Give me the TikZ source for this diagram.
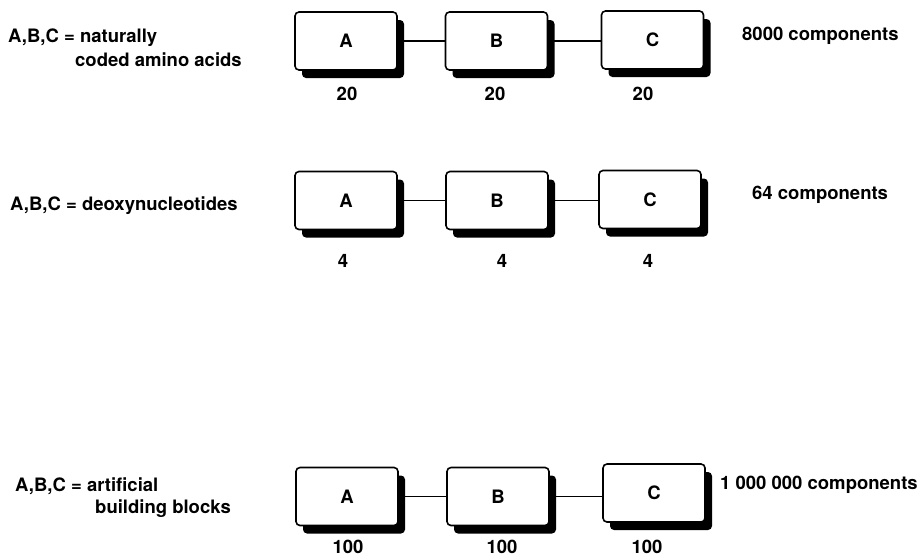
\documentclass[tikz,border=0pt]{standalone}
\usepackage{fontspec}
\setmainfont{TeX Gyre Heros}
\usetikzlibrary{shadows}
\begin{document}
\begin{tikzpicture}[x=1pt,y=-1pt,
  every node/.style={font=\bfseries\fontsize{18.5}{21}\selectfont, inner sep=0pt},
  blk/.style={draw=black, line width=1.6pt, rounded corners=4pt, fill=white,
    minimum width=102pt, minimum height=58pt,
    drop shadow={shadow xshift=7pt, shadow yshift=-8pt, fill=black, opacity=1}},
  txt/.style={anchor=base west},
  num/.style={anchor=base},
  link/.style={draw=black, line width=1.2pt}]
\useasboundingbox (0,0) rectangle (923,558);
% Row 1
\node[blk] (a1) at (346,41) {A};
\node[blk] (b1) at (496.5,41) {B};
\node[blk] (c1) at (652.5,40) {C};
\draw[link] (a1.east) -- (b1.west);
\draw[link] (b1.east) -- (b1.east -| c1.west);
\node[num] (n1a) at (347,100) {20};
\node[num] (n1b) at (495,100) {20};
\node[num] (n1c) at (643,100) {20};
\node[txt] (l1a) at (8,42) {A,B,C = naturally};
\node[txt] (l1b) at (75,66) {coded amino acids};
\node[txt] (r1) at (742,40) {8000 components};
% Row 2
\node[blk] (a2) at (346,200.5) {A};
\node[blk] (b2) at (497,200.5) {B};
\node[blk] (c2) at (650,199.5) {C};
\draw[link] (a2.east) -- (b2.west);
\draw[link] (b2.east) -- (b2.east -| c2.west);
\node[num] (n2a) at (343,267) {4};
\node[num] (n2b) at (502,267) {4};
\node[num] (n2c) at (648,267) {4};
\node[txt] (l2) at (10,210) {A,B,C = deoxynucleotides};
\node[txt] (r2) at (752,199) {64 components};
% Row 3
\node[blk] (a3) at (347,496.5) {A};
\node[blk] (b3) at (498,496.5) {B};
\node[blk] (c3) at (654,493) {C};
\draw[link] (a3.east) -- (b3.west);
\draw[link] (b3.east) -- (b3.east -| c3.west);
\node[num] (n3a) at (348,553) {100};
\node[num] (n3b) at (502,553) {100};
\node[num] (n3c) at (647,553) {100};
\node[txt] (l3a) at (15,491) {A,B,C = artificial};
\node[txt] (l3b) at (95,513) {building blocks};
\node[txt] (r3) at (720,489) {1 000 000 components};
\end{tikzpicture}
\end{document}
